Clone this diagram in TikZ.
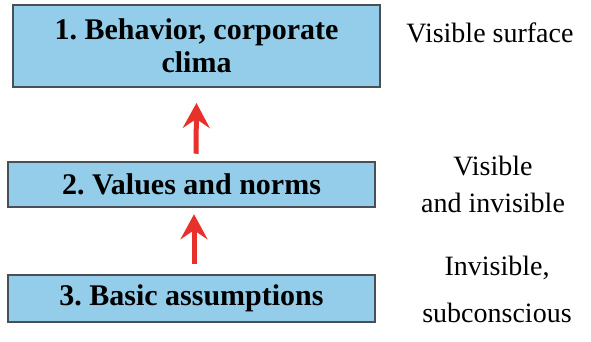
\documentclass[tikz,border=0pt]{standalone}
\usepackage{fontspec}
\setmainfont{Liberation Serif}
\usepackage{xcolor}
\usepackage{tikz}
\usetikzlibrary{positioning,arrows.meta}
\definecolor{layerblue}{HTML}{93CDEA}
\definecolor{layeredge}{HTML}{4A4F55}
\definecolor{uparrowred}{HTML}{E8312B}
\frenchspacing

\begin{document}
\begin{tikzpicture}[x=1pt,y=1pt,
    layer/.style={draw=layeredge, line width=2pt, fill=layerblue, minimum width=367pt,
      inner sep=0pt, align=center, font=\fontsize{30}{33}\selectfont\bfseries},
    side/.style={align=center, font=\fontsize{28}{33}\selectfont, anchor=base},
    uparrow/.style={draw=uparrowred, line width=5pt, -{Stealth[length=25pt,width=27pt,inset=9pt]}}]
      \useasboundingbox (0,0) rectangle (591,342);
      \node[layer, minimum height=82pt] (behavior) at (196.5,296) {1. Behavior, corporate\\clima};
      \node[layer, minimum height=45.5pt] (values) at (191.5,157.5) {2. Values and norms};
      \node[layer, minimum height=47pt] (assumptions) at (191.5,43.5) {3. Basic assumptions};
      \draw[uparrow] ([shift={(4.5,7)}]values.north) -- ([yshift=-15pt]behavior.south);
      \draw[uparrow] ([shift={(2.5,10)}]assumptions.north) -- ([shift={(2.5,-6)}]values.south);
      \node[side] (surface) at (490,299) {Visible surface};
      \node[side] (mixed) at (493,129) {Visible\\[4pt]and invisible};
      \node[side] (hidden) at (497,19) {Invisible,\\[14pt]subconscious};
    \end{tikzpicture}
\end{document}
